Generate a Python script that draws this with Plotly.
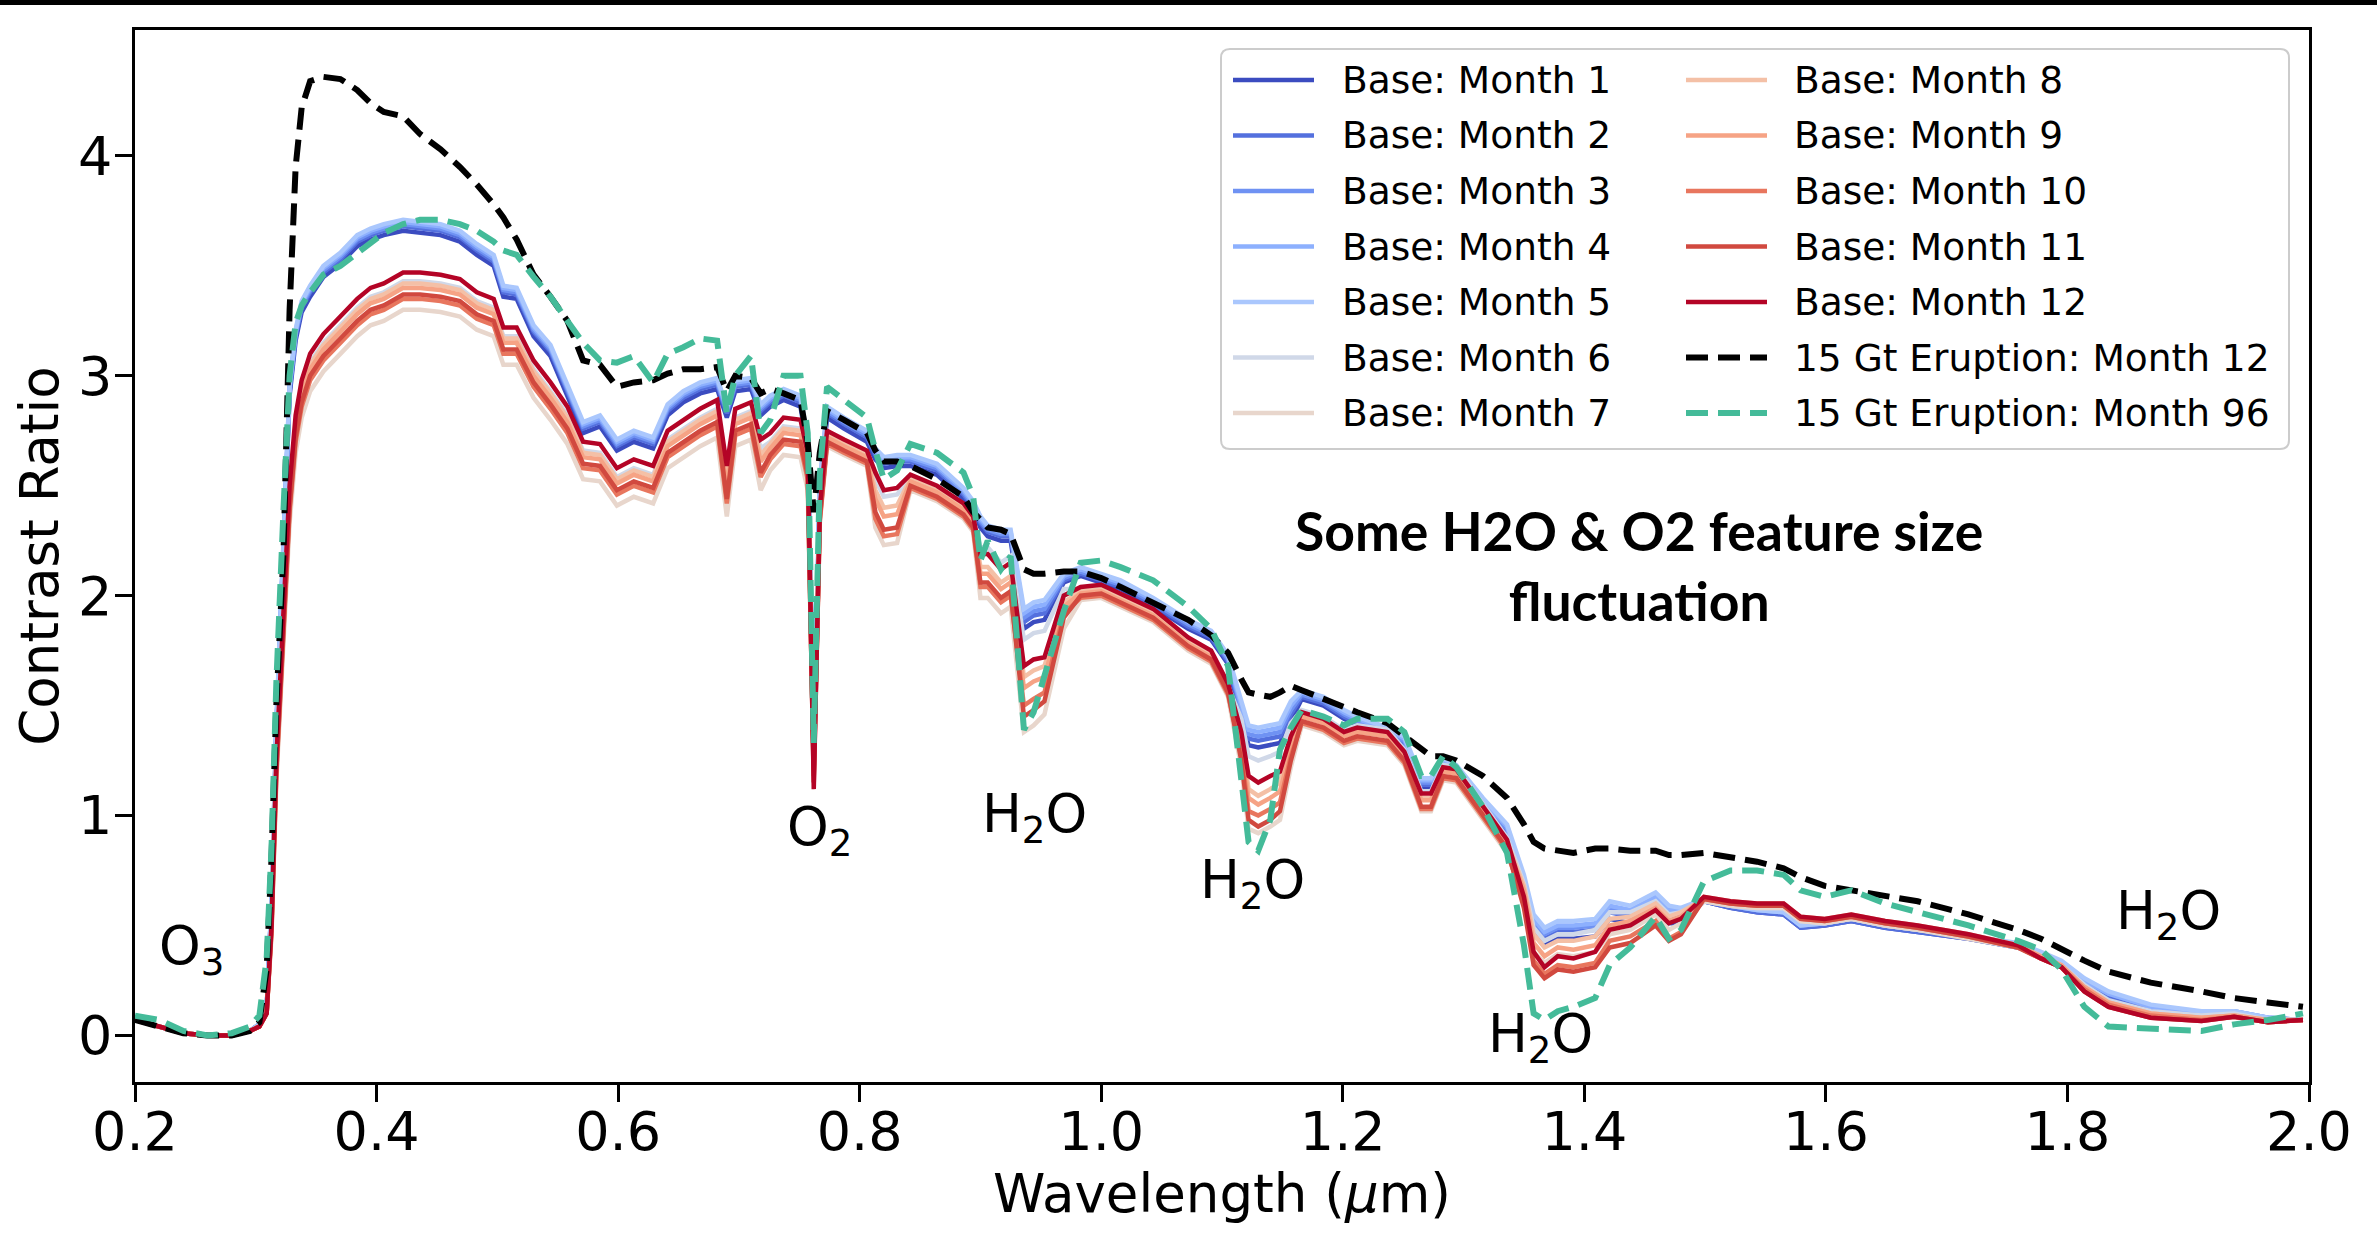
import plotly.graph_objects as go

# ---------------- data ----------------
WAVELENGTH = [
    0.200, 0.220, 0.240, 0.260, 0.280, 0.295, 0.303, 0.309, 0.313, 0.317,
    0.323, 0.328, 0.333, 0.338, 0.345, 0.356, 0.370, 0.384, 0.395, 0.406,
    0.422, 0.436, 0.453, 0.469, 0.483, 0.497, 0.505, 0.516, 0.530, 0.544,
    0.558, 0.571, 0.585, 0.599, 0.613, 0.629, 0.641, 0.654, 0.668, 0.682,
    0.690, 0.697, 0.710, 0.718, 0.726, 0.737, 0.751, 0.757, 0.762, 0.767,
    0.773, 0.787, 0.806, 0.813, 0.820, 0.831, 0.842, 0.864, 0.886, 0.894,
    0.900, 0.906, 0.917, 0.925, 0.936, 0.944, 0.953, 0.969, 0.983, 1.000,
    1.016, 1.043, 1.072, 1.091, 1.105, 1.116, 1.122, 1.130, 1.140, 1.148,
    1.157, 1.166, 1.184, 1.201, 1.212, 1.237, 1.251, 1.265, 1.273, 1.283,
    1.294, 1.316, 1.336, 1.350, 1.358, 1.367, 1.378, 1.391, 1.409, 1.421,
    1.438, 1.459, 1.470, 1.480, 1.499, 1.521, 1.543, 1.565, 1.579, 1.599,
    1.621, 1.649, 1.676, 1.718, 1.759, 1.778, 1.795, 1.814, 1.834, 1.869,
    1.911, 1.938, 1.966, 1.995]

BASE_MONTH_1 = [
    0.07, 0.04, 0.01, 0.00, 0.00, 0.02, 0.05, 0.12, 0.58, 1.36,
    2.26, 2.91, 3.16, 3.29, 3.36, 3.45, 3.51, 3.59, 3.62, 3.64,
    3.66, 3.65, 3.64, 3.61, 3.55, 3.50, 3.36, 3.35, 3.18, 3.09,
    2.91, 2.74, 2.77, 2.66, 2.70, 2.67, 2.82, 2.88, 2.92, 2.94,
    2.81, 2.93, 2.94, 2.82, 2.86, 2.89, 2.86, 2.66, 1.26, 2.46,
    2.81, 2.76, 2.70, 2.62, 2.58, 2.59, 2.59, 2.55, 2.44, 2.38,
    2.31, 2.27, 2.25, 2.25, 1.85, 1.88, 1.89, 2.06, 2.09, 2.06,
    2.03, 1.95, 1.85, 1.80, 1.69, 1.43, 1.32, 1.31, 1.32, 1.33,
    1.43, 1.53, 1.50, 1.44, 1.41, 1.36, 1.32, 1.13, 1.13, 1.22,
    1.19, 1.04, 0.92, 0.65, 0.47, 0.41, 0.44, 0.44, 0.45, 0.53,
    0.51, 0.57, 0.51, 0.51, 0.61, 0.58, 0.56, 0.55, 0.49, 0.50,
    0.52, 0.49, 0.47, 0.44, 0.40, 0.36, 0.32, 0.24, 0.18, 0.12,
    0.09, 0.10, 0.07, 0.07]

BASE_MONTH_2 = [
    0.07, 0.04, 0.01, 0.00, 0.00, 0.02, 0.05, 0.12, 0.59, 1.38,
    2.28, 2.93, 3.18, 3.31, 3.38, 3.47, 3.53, 3.61, 3.64, 3.66,
    3.68, 3.67, 3.66, 3.63, 3.57, 3.52, 3.38, 3.37, 3.20, 3.11,
    2.93, 2.76, 2.79, 2.68, 2.72, 2.69, 2.84, 2.90, 2.94, 2.96,
    2.83, 2.95, 2.96, 2.84, 2.88, 2.91, 2.88, 2.68, 1.28, 2.48,
    2.83, 2.78, 2.72, 2.64, 2.60, 2.61, 2.61, 2.57, 2.46, 2.40,
    2.33, 2.29, 2.27, 2.27, 1.88, 1.91, 1.92, 2.07, 2.10, 2.07,
    2.04, 1.96, 1.86, 1.81, 1.70, 1.46, 1.35, 1.34, 1.35, 1.36,
    1.46, 1.54, 1.51, 1.45, 1.42, 1.37, 1.33, 1.14, 1.14, 1.23,
    1.20, 1.05, 0.93, 0.68, 0.50, 0.44, 0.47, 0.47, 0.48, 0.56,
    0.54, 0.60, 0.54, 0.54, 0.61, 0.58, 0.56, 0.55, 0.49, 0.50,
    0.52, 0.49, 0.47, 0.44, 0.40, 0.36, 0.32, 0.24, 0.18, 0.12,
    0.10, 0.10, 0.08, 0.07]

BASE_MONTH_3 = [
    0.07, 0.04, 0.01, 0.00, 0.00, 0.02, 0.05, 0.12, 0.60, 1.39,
    2.29, 2.94, 3.19, 3.32, 3.39, 3.48, 3.54, 3.62, 3.65, 3.67,
    3.69, 3.68, 3.67, 3.64, 3.58, 3.53, 3.39, 3.38, 3.21, 3.12,
    2.94, 2.77, 2.80, 2.69, 2.73, 2.70, 2.85, 2.91, 2.95, 2.97,
    2.84, 2.96, 2.97, 2.85, 2.89, 2.92, 2.89, 2.69, 1.29, 2.49,
    2.84, 2.79, 2.73, 2.65, 2.61, 2.62, 2.62, 2.58, 2.47, 2.41,
    2.34, 2.30, 2.28, 2.28, 1.90, 1.93, 1.94, 2.08, 2.11, 2.08,
    2.05, 1.97, 1.87, 1.82, 1.71, 1.48, 1.37, 1.36, 1.37, 1.38,
    1.48, 1.55, 1.52, 1.46, 1.43, 1.38, 1.34, 1.15, 1.15, 1.24,
    1.21, 1.06, 0.94, 0.70, 0.52, 0.46, 0.49, 0.49, 0.50, 0.58,
    0.56, 0.62, 0.56, 0.56, 0.62, 0.59, 0.57, 0.56, 0.50, 0.51,
    0.53, 0.50, 0.48, 0.45, 0.41, 0.37, 0.33, 0.25, 0.19, 0.13,
    0.10, 0.11, 0.08, 0.07]

BASE_MONTH_4 = [
    0.07, 0.04, 0.01, 0.00, 0.00, 0.02, 0.05, 0.12, 0.60, 1.40,
    2.30, 2.95, 3.20, 3.33, 3.40, 3.49, 3.55, 3.63, 3.66, 3.68,
    3.70, 3.69, 3.68, 3.65, 3.59, 3.54, 3.40, 3.39, 3.22, 3.13,
    2.95, 2.78, 2.81, 2.70, 2.74, 2.71, 2.86, 2.92, 2.96, 2.98,
    2.85, 2.97, 2.98, 2.86, 2.90, 2.93, 2.90, 2.70, 1.30, 2.50,
    2.85, 2.80, 2.74, 2.66, 2.62, 2.63, 2.63, 2.59, 2.48, 2.42,
    2.35, 2.31, 2.29, 2.29, 1.92, 1.95, 1.96, 2.09, 2.12, 2.09,
    2.06, 1.98, 1.88, 1.83, 1.72, 1.50, 1.39, 1.38, 1.39, 1.40,
    1.50, 1.56, 1.53, 1.47, 1.44, 1.39, 1.35, 1.16, 1.16, 1.25,
    1.22, 1.07, 0.95, 0.71, 0.53, 0.47, 0.50, 0.50, 0.51, 0.59,
    0.57, 0.63, 0.57, 0.57, 0.62, 0.59, 0.57, 0.56, 0.50, 0.51,
    0.53, 0.50, 0.48, 0.45, 0.41, 0.37, 0.33, 0.25, 0.19, 0.13,
    0.10, 0.11, 0.08, 0.07]

BASE_MONTH_5 = [
    0.07, 0.04, 0.01, 0.00, 0.00, 0.02, 0.05, 0.12, 0.61, 1.41,
    2.31, 2.96, 3.21, 3.34, 3.41, 3.50, 3.56, 3.64, 3.67, 3.69,
    3.71, 3.70, 3.69, 3.66, 3.60, 3.55, 3.41, 3.40, 3.23, 3.14,
    2.96, 2.79, 2.82, 2.71, 2.75, 2.72, 2.87, 2.93, 2.97, 2.99,
    2.86, 2.98, 2.99, 2.87, 2.91, 2.94, 2.91, 2.71, 1.31, 2.51,
    2.86, 2.81, 2.75, 2.67, 2.63, 2.64, 2.64, 2.60, 2.49, 2.43,
    2.36, 2.32, 2.30, 2.30, 1.94, 1.97, 1.98, 2.10, 2.13, 2.10,
    2.07, 1.99, 1.89, 1.84, 1.73, 1.52, 1.41, 1.40, 1.41, 1.42,
    1.52, 1.57, 1.54, 1.48, 1.45, 1.40, 1.36, 1.17, 1.17, 1.26,
    1.23, 1.08, 0.96, 0.73, 0.55, 0.49, 0.52, 0.52, 0.53, 0.61,
    0.59, 0.65, 0.59, 0.58, 0.62, 0.59, 0.57, 0.56, 0.50, 0.51,
    0.53, 0.50, 0.48, 0.45, 0.42, 0.38, 0.34, 0.26, 0.20, 0.14,
    0.11, 0.11, 0.08, 0.07]

BASE_MONTH_6 = [
    0.07, 0.04, 0.01, 0.00, 0.00, 0.02, 0.04, 0.11, 0.52, 1.28,
    1.94, 2.46, 2.78, 2.94, 3.06, 3.15, 3.23, 3.31, 3.36, 3.38,
    3.43, 3.43, 3.42, 3.40, 3.34, 3.31, 3.18, 3.18, 3.03, 2.93,
    2.82, 2.66, 2.65, 2.54, 2.58, 2.55, 2.71, 2.76, 2.81, 2.85,
    2.55, 2.81, 2.84, 2.67, 2.70, 2.77, 2.76, 2.61, 1.25, 2.39,
    2.74, 2.70, 2.65, 2.53, 2.45, 2.46, 2.54, 2.49, 2.41, 2.35,
    2.22, 2.22, 2.15, 2.18, 1.80, 1.83, 1.84, 2.03, 2.03, 2.04,
    2.00, 1.93, 1.80, 1.74, 1.59, 1.44, 1.27, 1.25, 1.27, 1.29,
    1.42, 1.48, 1.45, 1.39, 1.41, 1.39, 1.30, 1.11, 1.11, 1.23,
    1.22, 1.05, 0.90, 0.69, 0.49, 0.43, 0.46, 0.46, 0.48, 0.56,
    0.56, 0.61, 0.55, 0.56, 0.61, 0.59, 0.58, 0.58, 0.52, 0.51,
    0.53, 0.50, 0.48, 0.45, 0.41, 0.36, 0.32, 0.23, 0.16, 0.11,
    0.09, 0.10, 0.07, 0.07]

BASE_MONTH_7 = [
    0.07, 0.04, 0.01, 0.00, 0.00, 0.02, 0.04, 0.10, 0.45, 1.15,
    1.81, 2.33, 2.65, 2.81, 2.93, 3.02, 3.10, 3.18, 3.23, 3.25,
    3.30, 3.30, 3.29, 3.27, 3.21, 3.18, 3.05, 3.05, 2.90, 2.80,
    2.69, 2.53, 2.52, 2.41, 2.45, 2.42, 2.58, 2.63, 2.68, 2.72,
    2.36, 2.68, 2.71, 2.48, 2.57, 2.64, 2.63, 2.48, 1.20, 2.33,
    2.68, 2.64, 2.59, 2.31, 2.23, 2.24, 2.48, 2.43, 2.35, 2.29,
    1.99, 1.99, 1.92, 1.95, 1.38, 1.41, 1.46, 1.85, 1.98, 1.99,
    1.95, 1.88, 1.75, 1.69, 1.54, 1.22, 0.94, 0.92, 0.95, 0.98,
    1.22, 1.41, 1.38, 1.32, 1.34, 1.32, 1.23, 1.02, 1.02, 1.16,
    1.15, 0.98, 0.83, 0.61, 0.38, 0.33, 0.37, 0.36, 0.38, 0.46,
    0.48, 0.55, 0.48, 0.51, 0.61, 0.59, 0.58, 0.58, 0.52, 0.51,
    0.53, 0.50, 0.48, 0.44, 0.40, 0.35, 0.31, 0.21, 0.14, 0.09,
    0.07, 0.085, 0.06, 0.07]

BASE_MONTH_8 = [
    0.07, 0.04, 0.01, 0.00, 0.00, 0.02, 0.04, 0.10, 0.49, 1.23,
    1.93, 2.45, 2.77, 2.93, 3.05, 3.14, 3.22, 3.30, 3.35, 3.37,
    3.42, 3.42, 3.41, 3.39, 3.33, 3.30, 3.17, 3.17, 3.02, 2.92,
    2.81, 2.65, 2.64, 2.53, 2.57, 2.54, 2.70, 2.75, 2.80, 2.84,
    2.52, 2.80, 2.83, 2.64, 2.69, 2.76, 2.75, 2.60, 1.22, 2.38,
    2.73, 2.69, 2.64, 2.48, 2.40, 2.41, 2.53, 2.48, 2.40, 2.34,
    2.13, 2.13, 2.06, 2.09, 1.63, 1.66, 1.68, 1.97, 2.02, 2.03,
    1.99, 1.92, 1.79, 1.73, 1.58, 1.35, 1.12, 1.09, 1.12, 1.15,
    1.33, 1.46, 1.43, 1.37, 1.39, 1.37, 1.28, 1.08, 1.08, 1.21,
    1.20, 1.03, 0.88, 0.68, 0.46, 0.40, 0.43, 0.43, 0.45, 0.53,
    0.54, 0.60, 0.54, 0.56, 0.62, 0.60, 0.59, 0.59, 0.53, 0.52,
    0.54, 0.51, 0.49, 0.45, 0.41, 0.36, 0.32, 0.22, 0.15, 0.10,
    0.08, 0.09, 0.07, 0.07]

BASE_MONTH_9 = [
    0.07, 0.04, 0.01, 0.00, 0.00, 0.02, 0.04, 0.10, 0.49, 1.22,
    1.91, 2.43, 2.75, 2.91, 3.03, 3.12, 3.20, 3.28, 3.33, 3.35,
    3.40, 3.40, 3.39, 3.37, 3.31, 3.28, 3.15, 3.15, 3.00, 2.90,
    2.79, 2.63, 2.62, 2.51, 2.55, 2.52, 2.68, 2.73, 2.78, 2.82,
    2.49, 2.78, 2.81, 2.61, 2.67, 2.74, 2.73, 2.58, 1.20, 2.37,
    2.72, 2.68, 2.63, 2.44, 2.36, 2.37, 2.52, 2.47, 2.39, 2.33,
    2.10, 2.10, 2.03, 2.06, 1.58, 1.61, 1.63, 1.95, 2.01, 2.02,
    1.98, 1.91, 1.78, 1.72, 1.57, 1.32, 1.08, 1.05, 1.08, 1.11,
    1.30, 1.45, 1.42, 1.36, 1.38, 1.36, 1.27, 1.07, 1.07, 1.20,
    1.19, 1.02, 0.87, 0.66, 0.42, 0.36, 0.40, 0.39, 0.41, 0.50,
    0.52, 0.58, 0.52, 0.54, 0.63, 0.61, 0.60, 0.60, 0.54, 0.53,
    0.55, 0.52, 0.50, 0.46, 0.41, 0.36, 0.32, 0.22, 0.15, 0.10,
    0.08, 0.09, 0.07, 0.07]

BASE_MONTH_10 = [
    0.07, 0.04, 0.01, 0.00, 0.00, 0.02, 0.04, 0.10, 0.47, 1.18,
    1.86, 2.38, 2.70, 2.86, 2.98, 3.07, 3.15, 3.23, 3.28, 3.30,
    3.35, 3.35, 3.34, 3.32, 3.26, 3.23, 3.10, 3.10, 2.95, 2.85,
    2.74, 2.58, 2.57, 2.46, 2.50, 2.47, 2.63, 2.68, 2.73, 2.77,
    2.42, 2.73, 2.76, 2.54, 2.62, 2.69, 2.68, 2.53, 1.18, 2.34,
    2.69, 2.65, 2.60, 2.35, 2.27, 2.28, 2.49, 2.44, 2.36, 2.30,
    2.04, 2.04, 1.97, 2.00, 1.50, 1.53, 1.56, 1.92, 1.99, 2.00,
    1.96, 1.89, 1.76, 1.70, 1.55, 1.28, 1.02, 1.00, 1.03, 1.06,
    1.27, 1.42, 1.39, 1.33, 1.35, 1.33, 1.24, 1.03, 1.03, 1.17,
    1.16, 0.99, 0.84, 0.60, 0.34, 0.28, 0.32, 0.31, 0.33, 0.43,
    0.45, 0.52, 0.44, 0.47, 0.62, 0.60, 0.59, 0.59, 0.53, 0.52,
    0.54, 0.51, 0.49, 0.45, 0.40, 0.35, 0.31, 0.21, 0.14, 0.09,
    0.07, 0.085, 0.06, 0.07]

BASE_MONTH_11 = [
    0.07, 0.04, 0.01, 0.00, 0.00, 0.02, 0.04, 0.10, 0.48, 1.20,
    1.88, 2.40, 2.72, 2.88, 3.00, 3.09, 3.17, 3.25, 3.30, 3.32,
    3.37, 3.37, 3.36, 3.34, 3.28, 3.25, 3.12, 3.12, 2.97, 2.87,
    2.76, 2.60, 2.59, 2.48, 2.52, 2.49, 2.65, 2.70, 2.75, 2.79,
    2.44, 2.75, 2.78, 2.56, 2.64, 2.71, 2.70, 2.55, 1.15, 2.35,
    2.70, 2.66, 2.61, 2.38, 2.30, 2.31, 2.50, 2.45, 2.37, 2.31,
    2.06, 2.06, 1.99, 2.02, 1.45, 1.48, 1.52, 1.90, 2.00, 2.01,
    1.97, 1.90, 1.77, 1.71, 1.56, 1.25, 0.98, 0.95, 0.98, 1.02,
    1.25, 1.43, 1.40, 1.34, 1.36, 1.34, 1.25, 1.04, 1.04, 1.18,
    1.17, 1.00, 0.85, 0.58, 0.32, 0.26, 0.30, 0.29, 0.31, 0.40,
    0.42, 0.50, 0.43, 0.46, 0.62, 0.60, 0.59, 0.59, 0.53, 0.52,
    0.54, 0.51, 0.49, 0.45, 0.40, 0.35, 0.31, 0.20, 0.13, 0.08,
    0.065, 0.085, 0.06, 0.07]

BASE_MONTH_12 = [
    0.07, 0.04, 0.01, 0.00, 0.00, 0.02, 0.04, 0.10, 0.50, 1.25,
    1.98, 2.50, 2.82, 2.98, 3.10, 3.19, 3.27, 3.35, 3.40, 3.42,
    3.47, 3.47, 3.46, 3.44, 3.38, 3.35, 3.22, 3.22, 3.07, 2.97,
    2.86, 2.70, 2.69, 2.58, 2.62, 2.59, 2.75, 2.80, 2.85, 2.89,
    2.59, 2.85, 2.88, 2.71, 2.74, 2.81, 2.80, 2.65, 1.12, 2.40,
    2.75, 2.71, 2.66, 2.56, 2.48, 2.49, 2.55, 2.50, 2.42, 2.36,
    2.19, 2.19, 2.12, 2.15, 1.68, 1.71, 1.72, 2.00, 2.04, 2.05,
    2.01, 1.94, 1.81, 1.75, 1.60, 1.38, 1.18, 1.15, 1.18, 1.20,
    1.36, 1.47, 1.44, 1.38, 1.40, 1.38, 1.29, 1.10, 1.10, 1.22,
    1.21, 1.04, 0.89, 0.63, 0.38, 0.31, 0.36, 0.35, 0.38, 0.48,
    0.50, 0.57, 0.51, 0.53, 0.63, 0.61, 0.60, 0.60, 0.54, 0.53,
    0.55, 0.52, 0.50, 0.46, 0.41, 0.35, 0.31, 0.20, 0.13, 0.08,
    0.065, 0.085, 0.06, 0.07]

ERUPTION_MONTH_12 = [
    0.07, 0.04, 0.01, 0.00, 0.00, 0.02, 0.06, 0.30, 0.80, 1.50,
    2.20, 3.30, 3.95, 4.22, 4.34, 4.36, 4.35, 4.30, 4.24, 4.20,
    4.18, 4.10, 4.03, 3.95, 3.87, 3.78, 3.72, 3.62, 3.46, 3.36,
    3.25, 3.07, 3.05, 2.95, 2.97, 2.98, 3.01, 3.03, 3.03, 3.04,
    2.93, 3.00, 2.99, 2.92, 2.94, 2.92, 2.89, 2.70, 2.38, 2.65,
    2.84, 2.80, 2.74, 2.66, 2.61, 2.61, 2.59, 2.53, 2.45, 2.38,
    2.34, 2.31, 2.30, 2.28, 2.12, 2.10, 2.10, 2.11, 2.11, 2.08,
    2.04, 1.97, 1.89, 1.82, 1.74, 1.62, 1.56, 1.55, 1.54, 1.56,
    1.59, 1.57, 1.53, 1.49, 1.47, 1.42, 1.36, 1.30, 1.27, 1.27,
    1.25, 1.18, 1.08, 0.96, 0.88, 0.85, 0.84, 0.83, 0.85, 0.85,
    0.84, 0.84, 0.82, 0.82, 0.83, 0.81, 0.79, 0.76, 0.72, 0.68,
    0.66, 0.64, 0.61, 0.55, 0.48, 0.44, 0.39, 0.34, 0.29, 0.24,
    0.20, 0.17, 0.15, 0.13]

ERUPTION_MONTH_96 = [
    0.09, 0.07, 0.02, 0.00, 0.01, 0.04, 0.09, 0.35, 0.85, 1.60,
    2.40, 3.00, 3.24, 3.32, 3.38, 3.46, 3.50, 3.56, 3.61, 3.65,
    3.69, 3.71, 3.71, 3.69, 3.66, 3.61, 3.57, 3.55, 3.45, 3.36,
    3.25, 3.15, 3.07, 3.06, 3.09, 2.97, 3.10, 3.13, 3.17, 3.16,
    2.83, 3.00, 3.09, 2.74, 2.80, 3.00, 3.00, 2.74, 1.33, 2.55,
    2.95, 2.89, 2.81, 2.66, 2.53, 2.57, 2.69, 2.65, 2.56, 2.45,
    2.16, 2.25, 2.12, 2.18, 1.39, 1.47, 1.64, 1.93, 2.15, 2.16,
    2.13, 2.07, 1.95, 1.85, 1.68, 1.16, 0.88, 0.84, 0.98, 1.30,
    1.40, 1.48, 1.45, 1.41, 1.44, 1.44, 1.38, 1.18, 1.18, 1.27,
    1.22, 1.04, 0.83, 0.41, 0.10, 0.07, 0.11, 0.13, 0.17, 0.32,
    0.40, 0.54, 0.44, 0.48, 0.70, 0.75, 0.75, 0.73, 0.66, 0.63,
    0.66, 0.60, 0.56, 0.50, 0.43, 0.39, 0.30, 0.13, 0.04, 0.03,
    0.02, 0.05, 0.07, 0.10]

BASE_SERIES = [BASE_MONTH_1, BASE_MONTH_2, BASE_MONTH_3, BASE_MONTH_4,
               BASE_MONTH_5, BASE_MONTH_6, BASE_MONTH_7, BASE_MONTH_8,
               BASE_MONTH_9, BASE_MONTH_10, BASE_MONTH_11, BASE_MONTH_12]
BASE_LABELS = ["Base: Month %d" % m for m in range(1, 13)]
ERUPTION_SERIES = [ERUPTION_MONTH_12, ERUPTION_MONTH_96]
ERUPTION_LABELS = ["15 Gt Eruption: Month 12", "15 Gt Eruption: Month 96"]

X_TICKS = [0.2, 0.4, 0.6, 0.8, 1.0, 1.2, 1.4, 1.6, 1.8, 2.0]
X_TICK_LABELS = ["0.2", "0.4", "0.6", "0.8", "1.0", "1.2", "1.4", "1.6", "1.8", "2.0"]
Y_TICKS = [0, 1, 2, 3, 4]
Y_TICK_LABELS = ["0", "1", "2", "3", "4"]

FEATURE_LABELS = ["O<sub>3</sub>", "O<sub>2</sub>", "H<sub>2</sub>O", "H<sub>2</sub>O",
                  "H<sub>2</sub>O", "H<sub>2</sub>O"]
FEATURE_X = [0.247, 0.767, 0.945, 1.125, 1.364, 1.884]
FEATURE_Y = [0.39, 0.93, 0.99, 0.69, -0.01, 0.55]

NOTE_TEXT = "Some H2O &amp; O2 feature size<br>fluctuation"

# ---------------- styling ----------------
BASE_COLORS = ["#3b4cc0", "#5470de", "#6f92f3", "#8db0fe", "#aac7fd", "#d0d8e8",
               "#e8d6cc", "#f4c0a6", "#f6a385", "#e8765e", "#d1493f", "#b40426"]
ERUPTION_COLORS = ["#000000", "#44bb99"]
FONT = "DejaVu Sans"
W, H = 2377, 1240
PL, PR, PT, PB = 135, 2309, 30, 1082
PW, PH = PR - PL, PB - PT
DASH = "22px,10px"


def px(x):
    return (x - PL) / PW


def py(y):
    return (PB - y) / PH


fig = go.Figure()
for vals, lab, col in zip(BASE_SERIES, BASE_LABELS, BASE_COLORS):
    fig.add_trace(go.Scatter(x=WAVELENGTH, y=vals, mode="lines", name=lab,
                             line=dict(color=col, width=4.5), showlegend=False))
for vals, lab, col in zip(ERUPTION_SERIES, ERUPTION_LABELS, ERUPTION_COLORS):
    fig.add_trace(go.Scatter(x=WAVELENGTH, y=vals, mode="lines", name=lab,
                             line=dict(color=col, width=6, dash=DASH), showlegend=False))

annotations = []
for t, x, y in zip(FEATURE_LABELS, FEATURE_X, FEATURE_Y):
    annotations.append(dict(x=x, y=y, xref="x", yref="y", text=t, showarrow=False,
                            font=dict(family=FONT, size=53, color="black"),
                            xanchor="center", yanchor="middle"))
annotations.append(dict(x=1.445, y=2.14, xref="x", yref="y", text="<b>" + NOTE_TEXT + "</b>",
                        showarrow=False, align="center",
                        font=dict(family="Lato", size=53.5, color="black"),
                        xanchor="center", yanchor="middle"))

shapes = []
# top border band of the image
shapes.append(dict(type="rect", xref="paper", yref="paper", x0=px(0), x1=px(W),
                   y0=py(5), y1=py(0), fillcolor="black", line=dict(width=0), layer="above"))

# manual legend box (rounded)
x0, x1, yt, yb = px(1221), px(2289), py(49), py(449)
rx, ry = 9 / PW, 9 / PH
path = (f"M{x0+rx},{yt} L{x1-rx},{yt} Q{x1},{yt} {x1},{yt-ry} L{x1},{yb+ry} "
        f"Q{x1},{yb} {x1-rx},{yb} L{x0+rx},{yb} Q{x0},{yb} {x0},{yb+ry} "
        f"L{x0},{yt-ry} Q{x0},{yt} {x0+rx},{yt} Z")
shapes.append(dict(type="path", xref="paper", yref="paper", path=path,
                   fillcolor="rgba(255,255,255,0.8)", line=dict(color="#cccccc", width=2),
                   layer="above"))

entries = []
for lab, col in zip(BASE_LABELS, BASE_COLORS):
    entries.append((lab, col, "solid", 4.5))
for lab, col in zip(ERUPTION_LABELS, ERUPTION_COLORS):
    entries.append((lab, col, DASH, 6))
for i, (lab, col, dash, lw) in enumerate(entries):
    c, r = divmod(i, 7)
    yrow = 80 + 55.5 * r
    lx0, lx1, tx = (1233, 1314, 1340) if c == 0 else (1686, 1767, 1792)
    shapes.append(dict(type="line", xref="paper", yref="paper", x0=px(lx0), x1=px(lx1),
                       y0=py(yrow), y1=py(yrow), line=dict(color=col, width=lw, dash=dash),
                       layer="above"))
    annotations.append(dict(x=px(tx), y=py(yrow), xref="paper", yref="paper", text=lab,
                            showarrow=False, xanchor="left", yanchor="middle",
                            font=dict(family=FONT, size=37.5, color="black")))

axis_common = dict(showline=True, linecolor="black", linewidth=2.5, mirror=True,
                   ticks="outside", ticklen=17, tickwidth=2.5, tickcolor="black",
                   showgrid=False, zeroline=False,
                   tickfont=dict(family=FONT, size=54, color="black"))

fig.update_layout(
    width=W, height=H,
    margin=dict(l=PL, r=W - PR, t=PT, b=H - PB, autoexpand=False),
    paper_bgcolor="white", plot_bgcolor="white",
    showlegend=False,
    font=dict(family=FONT, color="black"),
    xaxis=dict(range=[0.2, 2.0], tickvals=X_TICKS, ticktext=X_TICK_LABELS,
               ticklabelstandoff=-17,
               title=dict(text="Wavelength (<i>μ</i>m)", standoff=8,
                          font=dict(family=FONT, size=53, color="black")),
               **axis_common),
    yaxis=dict(range=[-0.212, 4.573], tickvals=Y_TICKS, ticktext=Y_TICK_LABELS,
               ticklabelstandoff=-8,
               title=dict(text="Contrast Ratio", standoff=3,
                          font=dict(family=FONT, size=53, color="black")),
               **axis_common),
    annotations=annotations,
    shapes=shapes,
)

fig.write_html("out.html")
